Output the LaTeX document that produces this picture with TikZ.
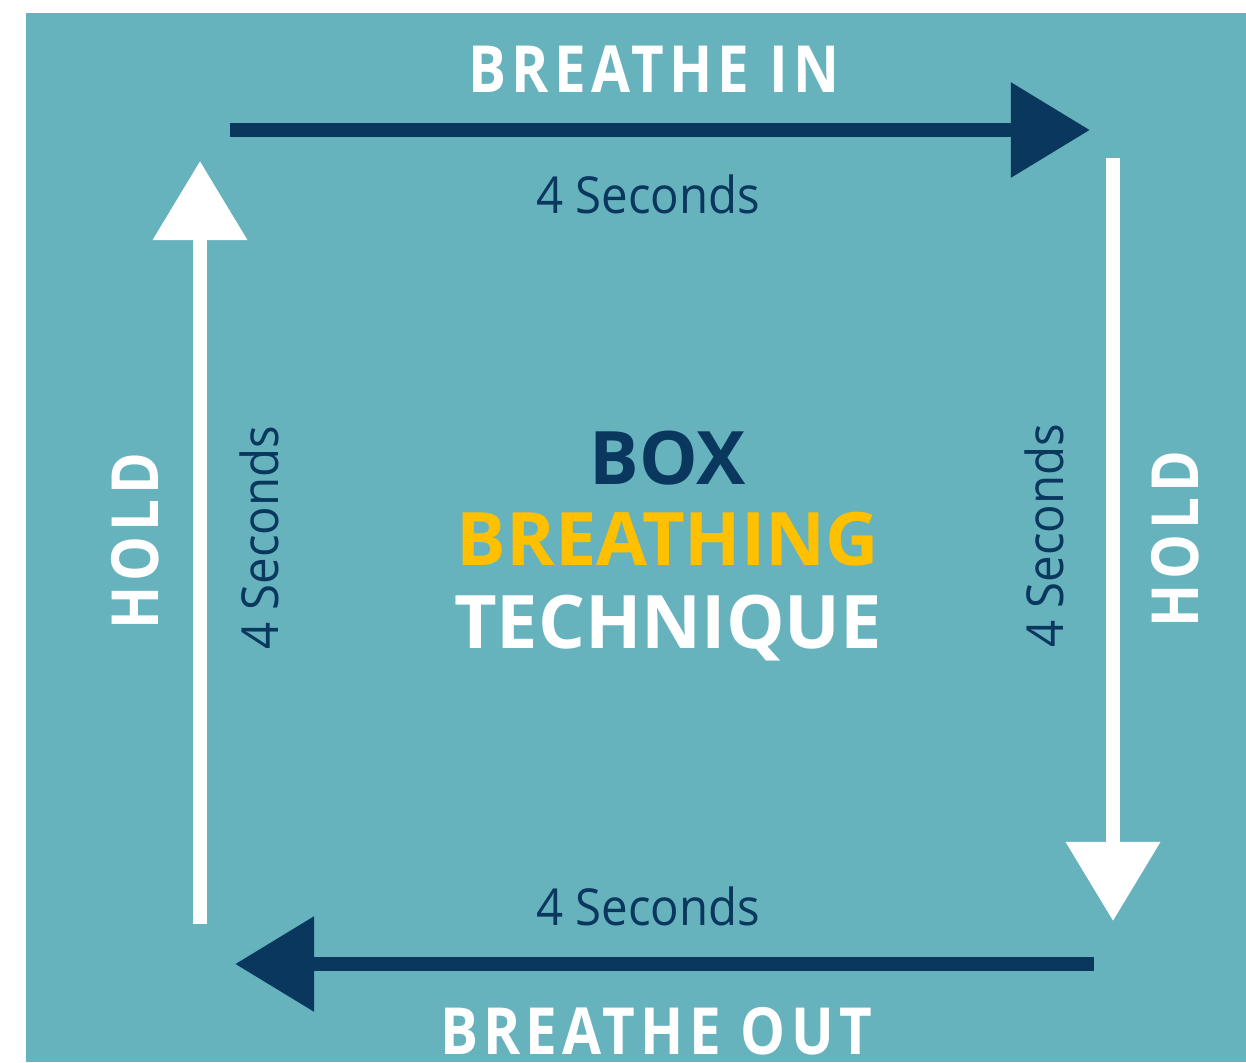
\documentclass[tikz,border=0pt]{standalone}
\usepackage{fontspec}
\setmainfont{Open Sans}
\newfontfamily\spaziato{Open Sans}[FakeStretch=0.87, LetterSpace=8]
\newfontfamily\stretto{Open Sans}[FakeStretch=0.93]
\usetikzlibrary{arrows.meta}

\definecolor{verdeacqua}{HTML}{66B2BD}
\definecolor{blunotte}{HTML}{0A375D}
\definecolor{giallo}{HTML}{FFC000}

\tikzset{
  freccia/.style={line width=8.5pt, -{Triangle[length=45pt,width=52pt]}},
  fase/.style={white, anchor=base, inner sep=0pt, font=\spaziato\bfseries\fontsize{37}{40}\selectfont},
  durata/.style={blunotte, anchor=base, inner sep=0pt, font=\stretto\fontsize{29}{32}\selectfont},
  centro/.style={anchor=base, inner sep=0pt, font=\bfseries\fontsize{42}{46}\selectfont},
}

\begin{document}
\begin{tikzpicture}[x=0.02cm, y=-0.02cm]
    \useasboundingbox (0,0) rectangle (1246,1062);
    % sfondo
    \fill[verdeacqua] (26,13) rectangle (1246,1062);

    % estremi delle frecce
    \coordinate (inA) at (230,130);
    \coordinate (inB) at (1090,130);
    \coordinate (holdA) at (1113,158);
    \coordinate (holdB) at (1113,921);
    \coordinate (outA) at (1094,964);
    \coordinate (outB) at (235,964);
    \coordinate (hold2A) at (200,924);
    \coordinate (hold2B) at (200,161);

    % disegno le frecce
    \draw[freccia, blunotte] (inA) -- (inB);
    \draw[freccia, white, line width=7.5pt] (holdA) -- (holdB);
    \draw[freccia, blunotte] (outA) -- (outB);
    \draw[freccia, white, line width=7.5pt] (hold2A) -- (hold2B);

    % scritte delle fasi
    \node[fase] (inspira) at (654,92) {BREATHE IN};
    \node[fase] (espira) at (656,1054) {BREATHE OUT};
    \node[fase, rotate=90] (trattieni1) at (158,541) {HOLD};
    \node[fase, rotate=90] (trattieni2) at (1198,539) {HOLD};

    % durate
    \node[durata] (sec1) at (648,213) {4 Seconds};
    \node[durata] (sec3) at (648,925) {4 Seconds};
    \node[durata, rotate=90] (sec4) at (278,538) {4 Seconds};
    \node[durata, rotate=90] (sec2) at (1063,536) {4 Seconds};

    % titolo al centro
    \node[centro, blunotte] (box) at (668,484) {BOX};
    \node[centro, giallo] (breathing) at (668,565) {BREATHING};
    \node[centro, white] (technique) at (668,648) {TECHNIQUE};
\end{tikzpicture}
\end{document}
